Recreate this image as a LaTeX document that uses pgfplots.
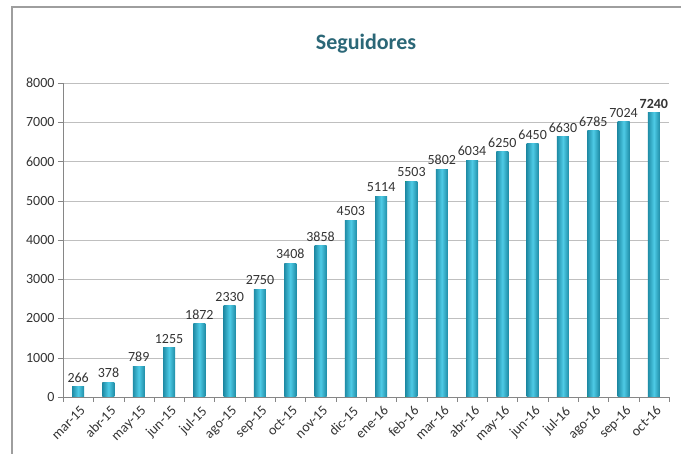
\documentclass[border=0pt]{standalone}
\usepackage{pgfplots}
\pgfplotsset{compat=1.18}
\usepackage{fontspec}
\setmainfont{Carlito}
\definecolor{titlecol}{HTML}{2B6777}
\definecolor{bardark}{HTML}{1F8CA6}
\definecolor{barlight}{HTML}{4ECBE6}
\definecolor{txt}{HTML}{333333}
\definecolor{axcol}{HTML}{868686}
\begin{document}
\begin{tikzpicture}
\useasboundingbox (0pt,0pt) rectangle (681pt,454pt);
\draw[axcol!80, line width=1.5pt] (12pt,0pt) -- (12pt,447pt) -- (681pt,447pt);
\begin{axis}[
  at={(63pt,57pt)}, anchor=south west,
  scale only axis, width=606pt, height=314pt,
  xmin=-0.5, xmax=19.5, ymin=0, ymax=8000,
  axis x line=bottom, axis y line=left,
  axis line style={-, draw=axcol},
  ytick={0,1000,...,8000},
  ymajorgrids, grid style={draw=gray!50},
  xtick={0,...,19},
  xticklabels={mar-15,abr-15,may-15,jun-15,jul-15,ago-15,sep-15,oct-15,nov-15,dic-15,ene-16,feb-16,mar-16,abr-16,may-16,jun-16,jul-16,ago-16,sep-16,oct-16},
  minor xtick={-0.5,0.5,...,19.5},
  xtick style={draw=none},
  minor x tick style={draw=axcol},
  ytick style={draw=axcol},
  tick align=outside,
  major tick length=5pt, minor tick length=5pt,
  xticklabel style={rotate=45, anchor=north east, inner sep=1pt, font=\fontsize{14}{16}\selectfont, text=txt, yshift=-2pt},
  yticklabel style={font=\fontsize{14}{16}\selectfont, text=txt},
  /pgf/number format/assume math mode=true,
  /pgf/number format/set thousands separator={},
  title={Seguidores},
  title style={at={(0.5,1)}, anchor=center, yshift=33pt, font=\fontsize{22}{26}\selectfont\bfseries, text=titlecol},
  ybar, bar width=12pt, bar shift=0pt,
  nodes near coords,
  point meta=explicit symbolic,
  nodes near coords style={font=\fontsize{14}{16}\selectfont, text=txt, inner sep=4pt},
  every axis plot/.append style={draw=none, left color=bardark, right color=bardark, middle color=barlight},
  clip=false,
]
\addplot coordinates {(0,266) [266]};
\addplot coordinates {(1,378) [378]};
\addplot coordinates {(2,789) [789]};
\addplot coordinates {(3,1255) [1255]};
\addplot coordinates {(4,1872) [1872]};
\addplot coordinates {(5,2330) [2330]};
\addplot coordinates {(6,2750) [2750]};
\addplot coordinates {(7,3408) [3408]};
\addplot coordinates {(8,3858) [3858]};
\addplot coordinates {(9,4503) [4503]};
\addplot coordinates {(10,5114) [5114]};
\addplot coordinates {(11,5503) [5503]};
\addplot coordinates {(12,5802) [5802]};
\addplot coordinates {(13,6034) [6034]};
\addplot coordinates {(14,6250) [6250]};
\addplot coordinates {(15,6450) [6450]};
\addplot coordinates {(16,6630) [6630]};
\addplot coordinates {(17,6785) [6785]};
\addplot coordinates {(18,7024) [7024]};
\addplot coordinates {(19,7240) [\textbf{7240}]};
\end{axis}
\end{tikzpicture}
\end{document}
